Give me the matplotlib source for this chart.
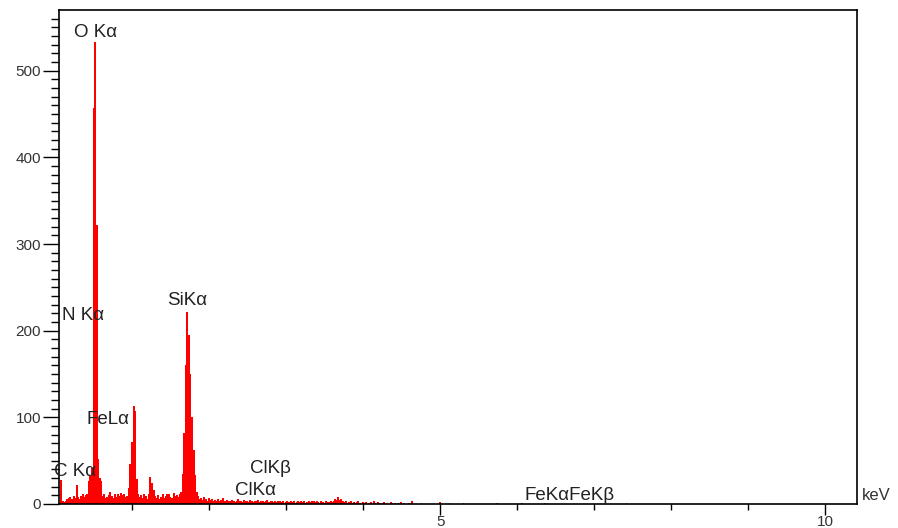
import numpy as np
import matplotlib
matplotlib.use("Agg")
import matplotlib.pyplot as plt
from matplotlib.ticker import FixedLocator

# ----------------------------------------------------
# Spectrum data (counts per 0.02 keV channel)
# ----------------------------------------------------
E_START = 0.075
E_STEP = 0.02
counts = [
    28, 3, 2, 4, 6, 7, 8, 6, 9, 7,            # first 10 channels
    22, 8, 6, 9, 11, 8, 10, 12, 26, 32,       # C K / N K region
    41, 457, 533, 322, 52, 30, 26, 9, 12, 7,  # O K
    8, 10, 14, 9, 7, 11, 8, 12, 9, 13,
    10, 12, 8, 9, 18, 46, 72, 113, 107, 29,   # Fe L
    12, 8, 10, 7, 12, 9, 6, 11, 31, 24,
    16, 9, 7, 10, 6, 8, 12, 7, 9, 11,
    12, 8, 7, 13, 9, 10, 8, 12, 14, 35,
    82, 160, 222, 195, 150, 100, 62, 34, 14, 9,  # Si K
    6, 7, 5, 8, 6, 4, 7, 5, 6, 4,
    5, 3, 6, 4, 5, 7, 4, 3, 5, 4,
    3, 5, 4, 2, 4, 6, 3, 4, 2, 5,
    3, 4, 2, 5, 3, 2, 4, 3, 5, 2,
    4, 3, 2, 3, 5, 2, 3, 4, 2, 3,
    2, 3, 4, 2, 3, 1, 2, 3, 2, 4,
    2, 3, 1, 2, 3, 2, 4, 2, 3, 1,
    2, 3, 2, 4, 3, 2, 3, 2, 1, 3,
    2, 1, 3, 2, 2, 3, 2, 4, 6, 5,
    8, 5, 6, 3, 2, 3, 1, 2, 3, 1,
    2, 1, 2, 3, 1, 0, 2, 1, 2, 0,
    1, 2, 0, 3, 1, 0, 2, 1, 0, 1,
    2, 0, 1, 0, 2, 1, 0, 1, 0, 1,
    0, 2, 0, 1, 0, 0, 1, 0, 3, 0,
]
# isolated counts at higher energy
sparse_energy = [4.76, 5.00, 5.12, 5.30, 5.74, 6.06, 6.36, 7.42]
sparse_counts = [1, 2, 1, 1, 1, 1, 1, 1]

# peak labels: text, x (keV), y (counts)
peak_labels = ["O K\u03b1", "N K\u03b1", "SiK\u03b1", "FeL\u03b1", "C K\u03b1",
               "ClK\u03b2", "ClK\u03b1", "FeK\u03b1FeK\u03b2"]
label_x = [0.24, 0.084, 1.45, 0.41, -0.02, 2.53, 2.33, 6.10]
label_y = [544, 217, 235, 98, 38, 41.5, 16, 10]

energy = E_START + E_STEP * np.arange(len(counts))

# ----------------------------------------------------
# Plot
# ----------------------------------------------------
plt.rcParams["font.family"] = ["Liberation Sans", "DejaVu Sans"]

fig = plt.figure(figsize=(8.98, 5.28), dpi=100)
ax = fig.add_axes([0.066, 0.0455, 0.8878, 0.9355])

ax.bar(energy, counts, width=E_STEP * 1.3, color="#ff0000", linewidth=0)
ax.bar(sparse_energy, sparse_counts, width=E_STEP, color="#ff0000", linewidth=0)

ax.set_xlim(0.05, 10.41)
ax.set_ylim(0, 570)

ax.xaxis.set_major_locator(FixedLocator([5, 10]))
ax.xaxis.set_minor_locator(FixedLocator([1, 2, 3, 4, 6, 7, 8, 9]))
ax.set_yticks(np.arange(0, 501, 100))
ax.yaxis.set_minor_locator(FixedLocator(np.arange(10, 561, 10)))

ax.tick_params(axis="y", which="major", length=11.5, width=1.0, direction="out",
               labelsize=11, labelcolor="#333333", pad=1.5)
ax.tick_params(axis="y", which="minor", length=5.8, width=1.0, direction="out")
ax.tick_params(axis="x", which="major", length=8, width=1.0, direction="out",
               labelsize=11, labelcolor="#333333", pad=0)
ax.tick_params(axis="x", which="minor", length=4.3, width=1.0, direction="out")

for s in ax.spines.values():
    s.set_linewidth(1.2)

for txt, x, y in zip(peak_labels, label_x, label_y):
    ax.text(x, y, txt, fontsize=13.5, color="#222222", ha="left", va="center",
            clip_on=False)

ax.text(10.48, 10, "keV", fontsize=12, color="#333333", ha="left", va="center",
        clip_on=False)

fig.savefig("out.png", dpi=100)
